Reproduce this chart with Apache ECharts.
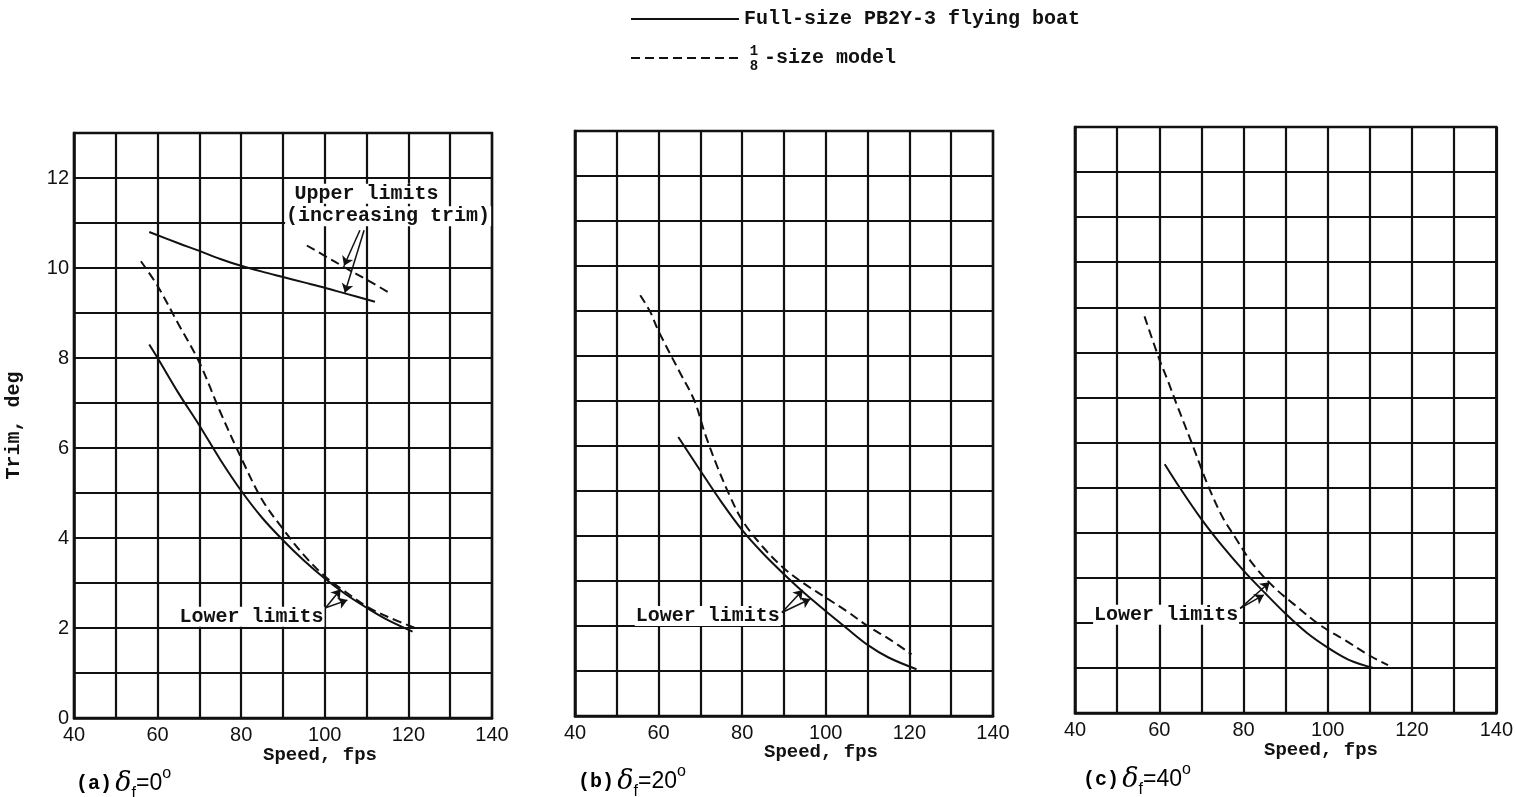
<!DOCTYPE html>
<html><head><meta charset="utf-8">
<script src="https://cdn.jsdelivr.net/npm/echarts@6/dist/echarts.min.js"></script>
<style>html,body{margin:0;padding:0;background:#fff}#c{width:1516px;height:797px}</style>
</head><body><div id="c"></div>
<script>
// ---------- data ----------
const FULL = 'Full-size PB2Y-3 flying boat';
const MODEL = '1/8 -size model';
const xTicks = [40, 60, 80, 100, 120, 140];
const yTicks = [0, 2, 4, 6, 8, 10, 12];

// (a) flap 0 deg
const aUpperFull  = [[58,10.8],[65,10.55],[70,10.38],[75,10.2],[80,10.05],[85,9.92],[90,9.8],[95,9.68],[100,9.56],[105,9.43],[112,9.25]];
const aUpperModel = [[95.7,10.5],[100,10.27],[105,10.0],[110,9.74],[116,9.42]];
const aLowerFull  = [[58,8.3],[60,8.0],[65,7.22],[70,6.5],[75,5.74],[80,5.05],[85,4.45],[90,3.95],[95,3.5],[100,3.1],[105,2.75],[110,2.45],[115,2.18],[121,1.92]];
const aLowerModel = [[56,10.15],[60,9.6],[65,8.75],[70,7.9],[75,6.8],[80,5.78],[85,4.85],[90,4.2],[95,3.62],[100,3.15],[105,2.8],[110,2.48],[115,2.25],[122.5,1.97]];
// (b) flap 20 deg
const bFull  = [[64.7,6.2],[70,5.45],[75,4.76],[80,4.13],[85,3.61],[90,3.15],[95,2.72],[100,2.33],[105,1.95],[110,1.58],[115,1.3],[121.7,1.04]];
const bModel = [[55.6,9.35],[58,8.98],[60,8.55],[65,7.65],[68.6,7.0],[71,6.3],[74,5.55],[77,4.9],[80,4.35],[85,3.75],[90,3.28],[95,2.93],[100,2.63],[105,2.33],[110,2.0],[115,1.72],[120.5,1.37]];
// (c) flap 40 deg
const cFull  = [[61.3,5.52],[65,4.98],[70,4.3],[75,3.7],[80,3.16],[85,2.67],[90,2.2],[95,1.78],[100,1.45],[105,1.18],[110.8,1.0]];
const cModel = [[56.5,8.8],[60,7.85],[62,7.38],[64,6.88],[66,6.4],[68,5.92],[70,5.42],[72,4.95],[75,4.35],[78,3.9],[82,3.33],[87,2.81],[92,2.41],[98,1.96],[104,1.62],[110,1.27],[114.3,1.06]];

// annotations (data coordinates)
const noteTexts  = ['Upper limits', '(increasing trim)', 'Lower limits', 'Lower limits', 'Lower limits'];
const notePanels = [0, 0, 0, 1, 2];
const notePoints = [[92.5,11.65],[90.5,11.15],[65,2.25],[54.3,2.22],[44.3,2.18]];
const arrowPanels = [0, 0, 0, 0, 1, 1, 2, 2];
const arrowFrom = [[108.4,10.84],[109.4,10.84],[100.2,2.45],[100.2,2.45],[89.5,2.3],[89.5,2.3],[79.2,2.32],[79.2,2.32]];
const arrowTo   = [[104.6,10.05],[104.8,9.45],[103.8,2.86],[105.4,2.62],[94.5,2.8],[96.3,2.6],[86.2,2.9],[84.8,2.62]];

// ---------- layout ----------
const grids = [
  {left: 74,   top: 133, width: 418, height: 585},
  {left: 575,  top: 131, width: 418, height: 585},
  {left: 1075, top: 127, width: 423, height: 586}
];
const MONO = "'Liberation Mono', 'DejaVu Sans Mono', monospace";
const SANS = "'Liberation Sans', Arial, sans-serif";
const INK = '#111';

const chart = echarts.init(document.getElementById('c'));

function curve(name, data, gi, dashed) {
  return {
    type: 'line', name, data, xAxisIndex: gi, yAxisIndex: gi,
    symbol: 'none', smooth: 0.35, z: 5,
    itemStyle: {color: INK},
    lineStyle: {color: INK, width: 2, type: dashed ? [9, 5] : 'solid'}
  };
}

const series = [
  curve(FULL, aUpperFull, 0, false), curve(MODEL, aUpperModel, 0, true),
  curve(FULL, aLowerFull, 0, false), curve(MODEL, aLowerModel, 0, true),
  curve(FULL, bFull, 1, false), curve(MODEL, bModel, 1, true),
  curve(FULL, cFull, 2, false), curve(MODEL, cModel, 2, true)
];

for (let p = 0; p < 3; p++) {
  const arrows = [];
  arrowPanels.forEach((ap, i) => { if (ap === p) arrows.push([{coord: arrowFrom[i]}, {coord: arrowTo[i]}]); });
  series.push({
    type: 'line', name: 'arrows' + p, xAxisIndex: p, yAxisIndex: p,
    data: [], symbol: 'none', z: 10,
    markLine: {
      silent: true, symbol: ['none', 'arrow'], symbolSize: 9,
      label: {show: false},
      lineStyle: {color: INK, width: 1.5, type: 'solid'},
      data: arrows
    }
  });
}

const xAxes = grids.map((g, i) => ({
  type: 'value', gridIndex: i, min: 40, max: 140, interval: 10,
  axisLine: {show: true, onZero: false, lineStyle: {color: INK, width: 2.5}},
  axisTick: {show: false},
  splitLine: {show: true, lineStyle: {color: INK, width: 2.2}},
  axisLabel: {
    show: true, margin: 7, showMinLabel: true, showMaxLabel: true,
    color: INK, fontFamily: SANS, fontSize: 20,
    formatter: v => xTicks.includes(v) ? String(v) : ''
  }
}));
const yAxes = grids.map((g, i) => ({
  type: 'value', gridIndex: i, min: 0, max: 13, interval: 1,
  axisLine: {show: true, onZero: false, lineStyle: {color: INK, width: 2.5}},
  axisTick: {show: false},
  splitLine: {show: true, lineStyle: {color: INK, width: 2.2}},
  name: i === 0 ? 'Trim, deg' : '',
  nameLocation: 'middle', nameGap: 50, nameRotate: 90,
  nameTextStyle: {fontFamily: MONO, fontWeight: 'bold', fontSize: 20, color: INK},
  axisLabel: {
    show: i === 0, margin: 5, color: INK, fontFamily: SANS, fontSize: 20,
    formatter: v => yTicks.includes(v) ? String(v) : ''
  }
}));

const capRich = {
  p: {fontFamily: MONO, fontWeight: 'bold', fontSize: 20, color: INK, verticalAlign: 'middle'},
  d: {fontFamily: "'DejaVu Serif', serif", fontStyle: 'italic', fontSize: 27, color: INK, verticalAlign: 'middle'},
  s: {fontFamily: SANS, fontSize: 16, color: INK, verticalAlign: 'bottom', lineHeight: 36},
  e: {fontFamily: SANS, fontSize: 23, color: INK, verticalAlign: 'middle'},
  o: {fontFamily: SANS, fontSize: 16, color: INK, verticalAlign: 'top', lineHeight: 36}
};
function caption(x, y, letter, deg) {
  return {type: 'text', left: x, top: y, z: 20,
    style: {text: '{p|(' + letter + ')} {d|δ}{s|f}{e|=' + deg + '}{o|o}', rich: capRich}};
}
function speed(cx, y) {
  return {type: 'text', x: cx, y: y, z: 20,
    style: {text: 'Speed, fps', fontFamily: MONO, fontWeight: 'bold', fontSize: 19, fill: INK,
      align: 'center', verticalAlign: 'middle'}};
}

const baseGraphics = [
  {type: 'text', x: 754, y: 51, style: {text: '1', fontFamily: MONO, fontWeight: 'bold', fontSize: 14, fill: INK, align: 'center', verticalAlign: 'middle'}},
  {type: 'text', x: 754, y: 66, style: {text: '8', fontFamily: MONO, fontWeight: 'bold', fontSize: 14, fill: INK, align: 'center', verticalAlign: 'middle'}},
  speed(320, 755), speed(821, 752), speed(1321, 750),
  caption(76, 766, 'a', '0'), caption(578, 764, 'b', '20'), caption(1083, 762, 'c', '40')
];

chart.setOption({
  animation: false,
  backgroundColor: '#fff',
  grid: grids.map(g => Object.assign({show: true, borderColor: INK, borderWidth: 2.5, backgroundColor: 'transparent'}, g)),
  xAxis: xAxes,
  yAxis: yAxes,
  legend: {
    data: [FULL, MODEL], orient: 'vertical', left: 630, top: 9, padding: 0,
    itemWidth: 108, itemHeight: 20, itemGap: 19, selectedMode: false,
    itemStyle: {opacity: 0},
    textStyle: {fontFamily: MONO, fontWeight: 'bold', fontSize: 20, color: INK, rich: {g: {width: 20}}},
    formatter: n => n === FULL ? n : '{g|}-size model'
  },
  graphic: baseGraphics,
  series
});

// annotation texts placed through the axes' own scales
const noteGraphics = noteTexts.map((t, i) => {
  const px = chart.convertToPixel({gridIndex: notePanels[i]}, notePoints[i]);
  return {type: 'text', x: px[0], y: px[1], z: 30,
    style: {text: t, fontFamily: MONO, fontWeight: 'bold', fontSize: 20, fill: INK,
      align: 'left', verticalAlign: 'middle', backgroundColor: '#fff', padding: [0, 1, 0, 1]}};
});
chart.setOption({graphic: baseGraphics.concat(noteGraphics)}, {replaceMerge: ['graphic']});
</script></body></html>
